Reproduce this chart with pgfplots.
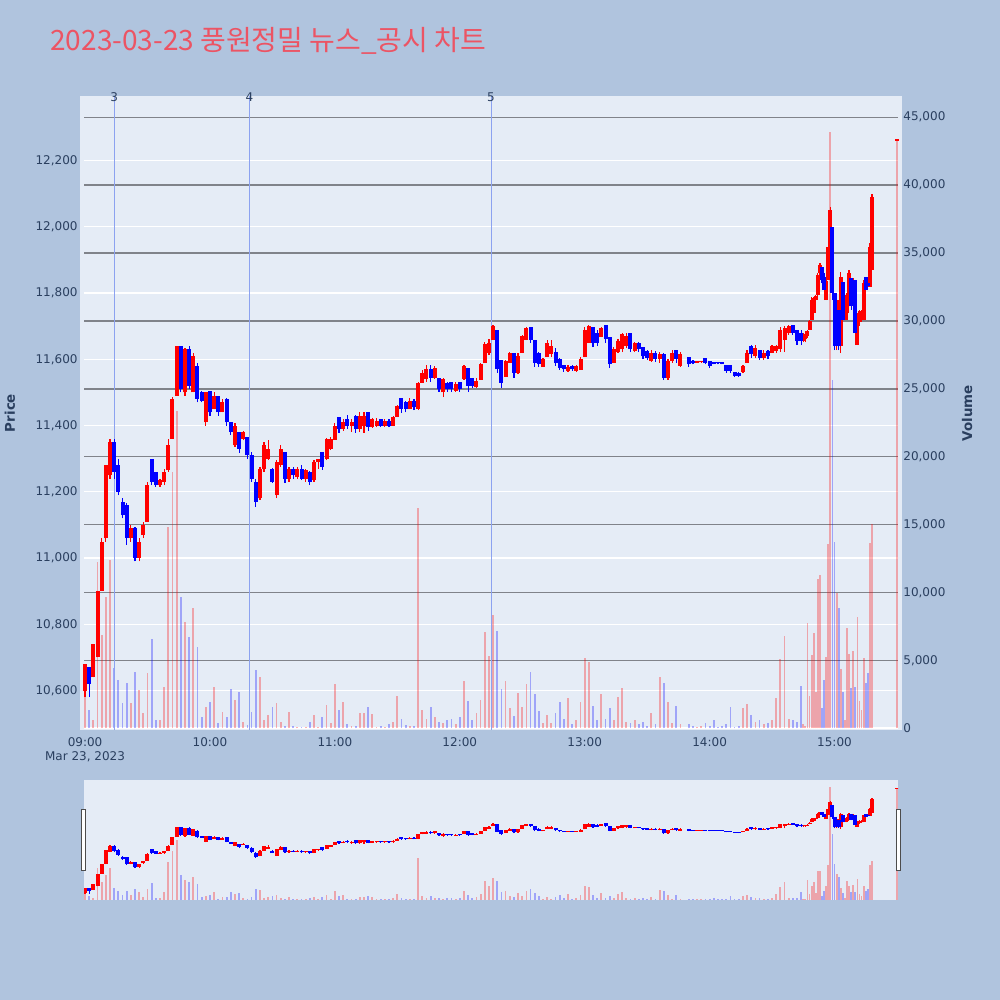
\documentclass[border=0pt]{standalone}
\usepackage{pgfplots}
\pgfplotsset{compat=1.18}
\usepackage{pgfplotstable}
\usepackage{fontspec}
\setmainfont{DejaVu Sans}
\newfontfamily\krfont{Noto Sans CJK KR}

\definecolor{pagebg}{RGB}{176,196,222}
\definecolor{plotbg}{RGB}{229,236,246}
\definecolor{txt}{RGB}{42,63,95}
\definecolor{titlered}{RGB}{236,84,100}
\definecolor{vgrid}{RGB}{128,131,138}
\definecolor{evline}{RGB}{140,162,240}

% t = minutes after 09:00, o h l c, v
\pgfplotstableread{
t o h l c v
0 10600 10680 10580 10680 2330
2 10670 10670 10580 10620 1350
4 10640 10740 10640 10740 610
6 10700 10900 10700 10900 12270
8 10900 11060 10900 11050 6870
10 11060 11280 11050 11280 9690
12 11250 11360 11240 11350 12400
14 11350 11360 11240 11260 4420
16 11280 11300 11190 11200 3560
18 11170 11180 11120 11130 1840
20 11160 11165 11040 11060 3310
22 11060 11100 11050 11090 1840
24 11090 11095 10990 11000 4170
26 11000 11060 10990 11050 2820
28 11070 11110 11060 11100 1110
30 11110 11230 11110 11220 4050
32 11300 11300 11220 11230 6550
34 11260 11260 11215 11220 610
36 11220 11240 11215 11235 610
38 11230 11270 11220 11260 3070
40 11265 11360 11260 11340 14850
42 11360 11485 11360 11480 18900
44 11490 11640 11490 11640 23350
46 11640 11640 11500 11510 9690
48 11500 11635 11490 11630 7850
50 11630 11640 11510 11520 6750
52 11500 11620 11500 11610 8840
54 11580 11590 11470 11480 6010
56 11500 11505 11470 11475 860
58 11410 11500 11400 11500 1590
60 11505 11505 11430 11440 1960
62 11450 11500 11450 11490 3070
64 11490 11490 11430 11440 370
66 11440 11480 11440 11470 1230
68 11480 11483 11400 11410 860
70 11410 11410 11372 11380 2900
72 11340 11408 11335 11400 2080
74 11380 11380 11318 11330 2700
76 11360 11385 11355 11380 490
78 11365 11365 11300 11310 250
80 11310 11320 11230 11240 1230
82 11230 11240 11155 11170 4290
84 11180 11275 11176 11270 3800
86 11270 11350 11260 11340 610
88 11300 11356 11296 11330 980
90 11270 11272 11227 11230 1590
92 11190 11296 11181 11290 1840
94 11280 11340 11275 11330 490
96 11320 11320 11227 11240 200
98 11240 11275 11230 11270 1230
100 11270 11275 11240 11250 150
102 11245 11275 11240 11270 100
104 11270 11280 11235 11240 120
106 11240 11270 11230 11265 100
108 11260 11262 11220 11230 490
110 11236 11296 11230 11290 980
112 11290 11300 11270 11300 100
114 11320 11320 11266 11275 860
116 11300 11363 11296 11360 1720
118 11330 11365 11326 11360 370
120 11357 11408 11357 11400 3270
122 11426 11426 11378 11390 1350
124 11390 11420 11385 11410 1960
126 11420 11432 11390 11400 300
128 11400 11420 11380 11410 150
130 11430 11432 11378 11390 200
132 11390 11440 11380 11430 1150
134 11400 11440 11378 11430 1100
136 11440 11440 11385 11395 1545
138 11395 11423 11393 11420 1030
140 11400 11423 11395 11415 100
142 11420 11420 11395 11400 150
144 11400 11420 11395 11415 100
146 11415 11420 11395 11400 300
148 11400 11430 11398 11425 500
150 11426 11462 11426 11460 2400
152 11483 11483 11438 11450 700
154 11470 11475 11440 11450 250
156 11450 11483 11450 11475 150
158 11475 11480 11447 11455 200
160 11450 11532 11447 11530 16250
162 11529 11568 11529 11560 1350
164 11540 11583 11532 11570 700
166 11570 11583 11532 11545 1550
168 11545 11580 11540 11575 800
170 11544 11544 11502 11510 500
172 11500 11544 11486 11540 400
174 11530 11532 11502 11510 600
176 11532 11532 11502 11510 700
178 11505 11532 11502 11525 300
180 11532 11532 11502 11510 800
182 11540 11583 11538 11580 3480
184 11574 11574 11502 11520 2000
186 11544 11544 11514 11520 600
188 11515 11544 11514 11535 1100
190 11538 11589 11538 11585 2080
192 11589 11652 11589 11645 7110
194 11620 11660 11613 11650 5320
196 11658 11704 11658 11700 8340
198 11689 11689 11559 11570 7190
200 11598 11598 11514 11530 2870
202 11547 11598 11547 11595 3500
204 11589 11622 11589 11620 1500
206 11619 11619 11544 11560 900
208 11560 11619 11555 11610 2570
210 11619 11674 11619 11670 1600
212 11658 11698 11658 11695 3270
214 11698 11698 11650 11658 4120
216 11658 11658 11577 11590 2500
218 11620 11622 11577 11585 1300
220 11577 11604 11577 11600 400
222 11607 11658 11607 11650 1000
224 11615 11658 11607 11640 400
226 11622 11634 11580 11590 1100
228 11600 11605 11568 11575 1960
230 11583 11583 11562 11570 700
232 11565 11583 11562 11578 2210
234 11580 11583 11565 11570 300
236 11565 11583 11562 11580 600
238 11568 11607 11568 11600 1960
240 11607 11698 11607 11690 5160
242 11649 11704 11649 11700 4900
244 11698 11698 11637 11650 1670
246 11680 11690 11640 11650 600
248 11667 11698 11667 11695 2530
250 11704 11704 11649 11660 700
252 11668 11668 11574 11585 1500
254 11589 11637 11589 11630 600
256 11622 11660 11620 11655 2330
258 11630 11680 11622 11675 2950
260 11640 11680 11635 11670 500
262 11680 11680 11622 11630 400
264 11625 11652 11622 11648 600
266 11650 11652 11622 11630 300
268 11637 11637 11600 11610 500
270 11625 11628 11598 11605 200
272 11595 11628 11592 11620 1150
274 11620 11625 11592 11600 300
276 11600 11622 11590 11615 3750
278 11615 11618 11538 11545 3310
280 11545 11600 11538 11595 1910
282 11595 11628 11590 11620 400
284 11628 11628 11589 11600 1640
286 11580 11622 11577 11615 300
290 11607 11607 11577 11585 300
292 11595 11597 11585 11590 200
294 11590 11593 11590 11593 100
296 11591 11593 11590 11593 150
298 11604 11604 11585 11590 400
300 11595 11595 11574 11580 150
302 11590 11592 11585 11587 600
304 11592 11592 11585 11588 100
306 11590 11592 11585 11587 200
308 11583 11583 11560 11565 300
310 11583 11583 11559 11565 1550
312 11562 11562 11547 11550 100
314 11560 11562 11547 11550 200
316 11562 11583 11560 11580 1470
318 11589 11628 11589 11620 1790
320 11640 11643 11604 11615 1000
322 11610 11643 11604 11635 500
324 11628 11628 11598 11605 600
326 11605 11628 11598 11620 300
328 11625 11628 11600 11610 400
330 11620 11643 11619 11640 600
332 11625 11643 11619 11640 2210
334 11630 11698 11622 11690 5100
336 11658 11700 11622 11695 6800
338 11680 11704 11674 11700 700
340 11704 11704 11674 11680 600
342 11689 11689 11643 11655 500
344 11680 11689 11643 11655 3110
345 11655 11680 11652 11675 300
346 11660 11680 11652 11670 200
347 11670 11690 11665 11685 7780
348 11689 11719 11689 11715 2380
349 11720 11788 11720 11780 5370
350 11740 11788 11740 11785 7000
351 11779 11794 11779 11790 2700
352 11794 11861 11790 11855 10970
353 11860 11891 11855 11885 11290
354 11879 11879 11830 11840 1470
355 11850 11860 11800 11810 3560
356 11779 11840 11779 11835 5270
357 11840 11951 11840 11940 13570
358 11909 12060 11909 12050 43900
359 12000 12000 11780 11800 25660
360 11800 11800 11628 11640 13740
361 11640 11788 11628 11780 9990
362 11749 11749 11628 11640 8840
363 11640 11864 11619 11850 4390
364 11833 11833 11710 11720 2700
365 11720 11794 11719 11790 600
366 11740 11800 11719 11790 7410
367 11779 11870 11779 11860 5470
368 11846 11846 11749 11760 2950
369 11760 11846 11749 11840 5690
370 11840 11840 11667 11680 3070
371 11643 11740 11643 11735 8170
372 11713 11749 11700 11745 2030
373 11719 11749 11713 11740 1350
374 11719 11840 11719 11830 5160
375 11849 11849 11800 11810 3360
376 11830 11835 11815 11820 4100
377 11819 11951 11819 11940 13620
378 11870 12100 11870 12090 15050
390 12260 12260 12260 12260 43330
}\ohlc

\pgfplotsset{
  base/.style={scale only axis, width=407pt, xmin=-0.5, xmax=390.5,
    scaled x ticks=false, scaled y ticks=false,
    axis line style={draw=none}, major tick length=0pt,
    ticklabel style={font=\fontsize{6}{7}\selectfont, text=txt, inner sep=0pt}},
  price/.style={ymin=10481, ymax=12395},
  vol/.style={ymin=-125, ymax=46563},
  up/.style={restrict expr to domain={\thisrow{c}-\thisrow{o}}{0:100000}},
  dn/.style={restrict expr to domain={\thisrow{c}-\thisrow{o}}{-100000:-0.5}},
}

\newcommand\candles{%
  \addplot[red, line width=0.6pt, up, -, quiver={u=0, v={\thisrow{h}-\thisrow{l}}}] table[x=t, y=l] {\ohlc};
  \addplot[blue, line width=0.6pt, dn, -, quiver={u=0, v={\thisrow{h}-\thisrow{l}}}] table[x=t, y=l] {\ohlc};
  \addplot[red, line width=2pt, up, -, quiver={u=0, v={max(abs(\thisrow{c}-\thisrow{o}),5)}}] table[x=t, y expr={min(\thisrow{o},\thisrow{c})}] {\ohlc};
  \addplot[blue, line width=2pt, dn, -, quiver={u=0, v={max(abs(\thisrow{c}-\thisrow{o}),5)}}] table[x=t, y expr={min(\thisrow{o},\thisrow{c})}] {\ohlc};
}
\newcommand\volbars{%
  \addplot[ycomb, red, opacity=0.3, line width=0.9pt, up] table[x=t, y=v] {\ohlc};
  \addplot[ycomb, blue, opacity=0.3, line width=0.9pt, dn] table[x=t, y=v] {\ohlc};
}

\begin{document}
\begin{tikzpicture}
\useasboundingbox (0,0) rectangle (500pt,500pt);
\fill[pagebg] (0,0) rectangle (500pt,500pt);
\fill[plotbg] (40pt,135pt) rectangle (451pt,452pt);

% price grid and labels
\begin{axis}[base, price, at={(42pt,135pt)}, anchor=south west, height=317pt,
  ytick={10600,10800,...,12200},
  yticklabels={{10,600},{10,800},{11,000},{11,200},{11,400},{11,600},{11,800},{12,000},{12,200}},
  yticklabel style={xshift=-3pt},
  ymajorgrids, grid style={white, line width=0.6pt},
  xtick={0,60,...,360},
  xticklabels={09:00,10:00,11:00,12:00,13:00,14:00,15:00},
  xticklabel style={yshift=-3.6pt}]
\addplot[draw=none] coordinates {(0,11000)};
\end{axis}

% volume
\begin{axis}[base, vol, at={(42pt,135pt)}, anchor=south west, height=317pt,
  xtick=\empty, yticklabel pos=right,
  ytick={5000,10000,...,45000},
  yticklabels={{5,000},{10,000},{15,000},{20,000},{25,000},{30,000},{35,000},{40,000},{45,000}},
  extra y ticks={0}, extra y tick labels={0},
  extra y tick style={grid style={white, line width=1pt}},
  yticklabel style={xshift=2.5pt},
  ymajorgrids, grid style={vgrid, line width=0.7pt}]
\volbars
\end{axis}

% candles and event lines
\begin{axis}[base, price, at={(42pt,135pt)}, anchor=south west, height=317pt,
  xtick=\empty, ytick=\empty, clip=false]
\addplot[evline, line width=0.5pt] coordinates {(14,10481) (14,12395)};
\addplot[evline, line width=0.5pt] coordinates {(79,10481) (79,12395)};
\addplot[evline, line width=0.5pt] coordinates {(195,10481) (195,12395)};
\candles
\node[font=\fontsize{6}{7}\selectfont, text=txt, inner sep=0pt] at (axis cs:14,12392) {3};
\node[font=\fontsize{6}{7}\selectfont, text=txt, inner sep=0pt] at (axis cs:79,12392) {4};
\node[font=\fontsize{6}{7}\selectfont, text=txt, inner sep=0pt] at (axis cs:195,12392) {5};
\end{axis}

% range slider
\begin{axis}[base, vol, at={(42pt,50pt)}, anchor=south west, height=60pt,
  axis background/.style={fill=plotbg}, xtick=\empty, ytick=\empty]
\volbars
\end{axis}
\begin{axis}[base, price, at={(42pt,50pt)}, anchor=south west, height=60pt,
  xtick=\empty, ytick=\empty]
\candles
\end{axis}
\draw[fill=white, draw=black!70, line width=0.5pt] (40.85pt,64.5pt) rectangle (42.85pt,95pt);
\draw[fill=white, draw=black!70, line width=0.5pt] (448pt,64.5pt) rectangle (450pt,95pt);

\node[font=\fontsize{6}{7}\selectfont, text=txt] at (42.5pt,121.5pt) {Mar 23, 2023};
\node[rotate=90, font=\bfseries\fontsize{6.7}{8}\selectfont, text=txt] at (5pt,293.5pt) {Price};
\node[rotate=90, font=\bfseries\fontsize{6.7}{8}\selectfont, text=txt] at (483.5pt,293.5pt) {Volume};
\node[anchor=base west, inner sep=0pt, text=titlered, font=\krfont\fontsize{14}{16}\selectfont]
  at (25pt,474.6pt) {2023-03-23 풍원정밀 뉴스\_공시 차트};
\end{tikzpicture}
\end{document}
